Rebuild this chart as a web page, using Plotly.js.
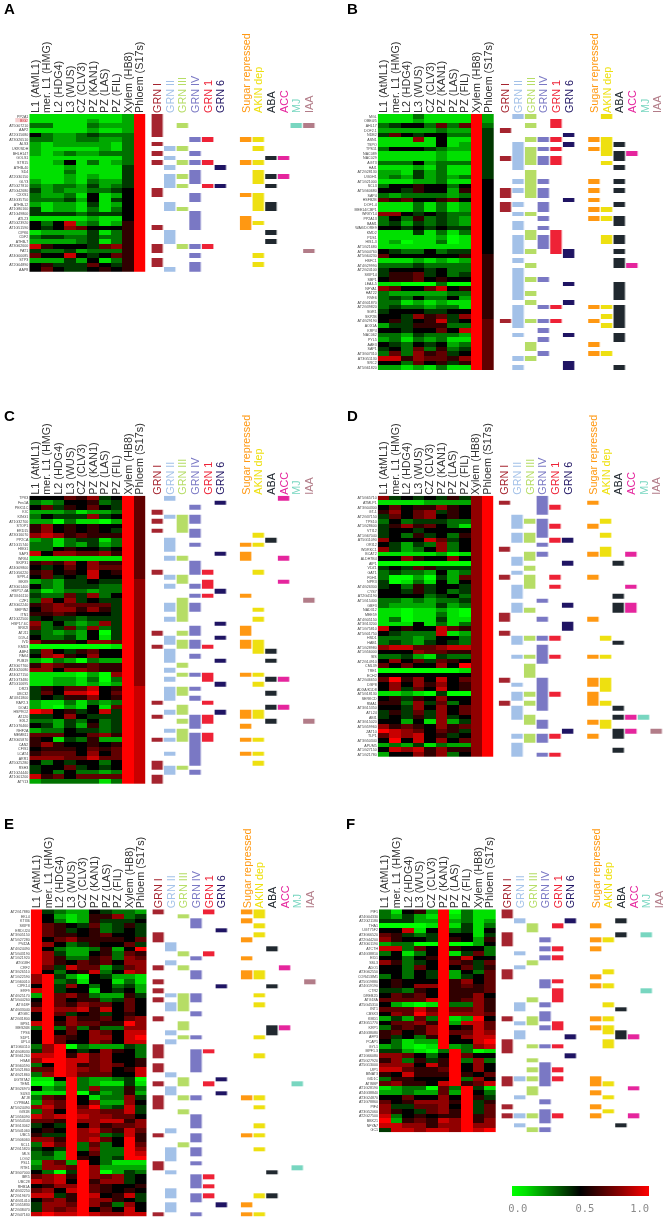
<!DOCTYPE html>
<html><head><meta charset="utf-8">
<script src="https://cdn.plot.ly/plotly-3.0.1.min.js"></script>
<style>html,body{margin:0;padding:0;background:#fff}#chart{width:666px;height:1220px;filter:blur(0.45px)}</style>
</head><body><div id="chart"></div>
<script>
const COLUMNS = ["L1 (AtML1)","mer. L1 (HMG)","L2 (HDG4)","L3 (WUS)","CZ (CLV3)","PZ (KAN1)","PZ (LAS)","PZ (FIL)","Xylem (HB8)","Phloem (S17s)"];
const TRACK_NAMES = ["GRN I","GRN II","GRN III","GRN IV","GRN 1","GRN 6","Sugar repressed","AKIN dep","ABA","ACC","MJ","IAA"];
const TRACK_COLORS = ["#a5242f","#a3c1e8","#b6dd66","#7a78c4","#ee2236","#1f1463","#ff9812","#eee010","#20282f","#e5259d","#78d6c0","#b27c88"];
const TRACK_POS = [0,1,2,3,4,5,7,8,9,10,11,12];

// values: 0 = 0.0 (green), 5 = 0.5 (black), 10 = 1.0 (red); in tenths
const A_genes = ["PP2A1","BIG2","AT5G07210","AAP2","AT2G15680","AT3G26510","ALS3","UKR/SDH","BHLH147","GOLS1","STR15","ATHB-40","SD4","AT2G30150","GLY3","AT5G27810","AT5G42680","CXXS1","AT4G35750","ATHB-12","AT1G80160","AT1G49800","ATL23","AT5G23920","AT1G51590","CIPK6","CDF2","ATHB-7","AT3G62600","PAT1","AT4G00085","STP3","AT2G04890","AAP8"];
const A_values = [
[1,1,1,1,1,1,1,1,2,10],[1,1,1,1,1,2,1,1,2,10],[3,3,1,1,1,3,2,2,2,10],[1,1,1,1,1,2,1,1,2,10],
[5,3,2,2,3,4,3,3,3,10],[3,3,2,2,3,3,2,2,3,10],[2,1,2,2,2,2,2,1,3,10],[2,1,1,1,1,1,2,1,3,10],
[2,1,2,3,2,2,3,3,3,10],[1,1,1,1,1,1,1,1,3,10],[1,1,2,5,1,3,1,2,3,10],[1,1,1,2,1,1,1,1,4,10],
[1,1,1,3,1,1,1,1,4,10],[1,1,1,2,1,2,1,1,4,10],[2,1,1,2,1,3,2,2,4,10],[3,2,3,3,2,4,2,3,4,10],
[4,2,3,2,2,3,3,4,5,10],[3,2,2,3,1,5,1,2,5,10],[3,3,3,4,2,5,1,4,5,10],[2,1,2,2,1,4,1,2,5,10],
[4,1,2,2,1,3,1,3,5,10],[4,4,4,4,3,4,4,4,5,10],[1,1,1,1,1,2,1,1,5,10],[5,3,5,9,2,3,1,2,6,10],
[5,4,5,8,7,5,5,5,6,10],[1,2,2,2,2,4,1,3,6,10],[3,4,4,3,3,4,3,3,6,10],[2,2,2,2,3,4,1,3,6,10],
[9,6,5,5,5,4,7,8,6,10],[4,3,3,4,2,3,3,3,6,10],[7,5,5,9,5,4,5,7,6,10],[2,2,2,4,2,5,1,3,6,10],
[5,6,4,4,4,7,5,4,6,10],[5,7,5,4,4,5,6,5,6,10]];
const A_tracks = [
[0,1,2,3,4,6,8,10,16,17,24,28,29,31,32],
[7,9,11,13,14,15,19,20,25,26,27,33],
[2,7,10,13,15,20,28],
[5,8,10,12,13,14,17,18,21,22,23,24,28,30,32,33],
[5,10,15,28],
[11,15],
[5,10,17,22,23,24],
[5,7,10,12,13,14,17,18,19,20,23,30,32],
[9,13,15,19,20,25,27],
[9,13],
[2],
[2,29]];

const B_genes = ["MGL","OBE4/5","AHL17","DOF2.1","NDB2","ASN1","TSPO","TPS11","NAC089","NAC029","AGT3","HAI1","AT2G28130","UGDH1","AT1G21000","SCL3","AT5G60680","SAP4","HSFB2B","DOF1.4","MEE14/CBP1","WRKY14","PP2A13","BAM1","WAK/DORE9","KMD2","PDS1","HIS1-3","AT1G21680","AT5G04760","AT5G64230","HSFC1","AT4G29990","AT2G24100","SKIP14","SBP1","LEA4-5","NFYA1","HAT22","RVE6","AT4G01870","AT2G39820","SGR1","SKP2B","AT4G29190","AOX1A","KRP4","NAC062","PYL5","AAE3","SAP1","AT3G07310","AT3G51130","SRC2","AT5G61820"];
const B_values = [
[1,1,1,3,1,1,1,1,10,2],[1,1,1,2,1,1,1,1,10,2],[3,4,5,5,3,7,3,7,10,3],[2,2,2,2,2,3,2,2,10,4],
[4,7,5,4,5,5,3,3,10,4],[1,1,1,8,1,5,1,1,10,4],[1,1,1,1,1,5,1,2,10,4],[3,5,5,5,4,3,2,2,10,4],
[1,1,1,1,1,2,1,1,10,4],[1,1,1,1,1,2,1,1,10,4],[3,3,3,5,2,3,3,3,10,4],[1,1,1,2,1,3,1,1,10,4],
[2,2,1,4,2,3,1,1,10,4],[2,3,2,4,2,3,2,3,10,4],[1,1,1,2,2,3,1,1,10,5],[3,5,5,6,5,5,3,5,10,5],
[5,5,4,6,5,5,2,6,10,5],[3,2,3,3,3,3,2,3,10,5],[7,6,7,5,5,6,7,5,10,5],[1,1,1,3,1,3,1,2,10,5],
[1,1,1,3,1,3,1,2,10,5],[8,8,5,4,5,4,3,3,10,5],[3,5,3,6,3,4,3,2,10,5],[3,4,2,4,3,4,3,2,10,5],
[5,5,4,5,4,5,4,4,10,5],[1,1,1,4,1,3,1,3,10,5],[1,1,1,1,1,2,0,1,10,5],[1,2,0,1,1,3,0,1,10,5],
[1,1,1,1,1,1,1,1,10,5],[5,4,3,3,5,3,4,4,10,5],[7,5,5,5,5,5,5,6,10,6],[1,1,1,2,1,2,1,2,10,6],
[3,3,3,4,3,3,3,3,10,6],[4,5,5,5,4,5,3,3,10,6],[4,6,6,7,4,5,3,4,10,6],[5,6,6,7,5,6,5,5,10,6],
[1,1,0,0,0,3,0,0,10,6],[8,7,5,5,7,9,5,6,10,6],[3,2,2,2,2,2,3,3,10,6],[3,4,3,5,3,3,5,2,10,6],
[3,3,1,2,1,2,1,1,10,6],[3,4,3,3,2,3,3,1,10,6],[4,5,5,5,4,4,5,5,10,6],[5,5,4,8,6,7,4,8,10,6],
[5,6,4,5,6,9,4,5,10,7],[2,4,4,6,6,6,3,3,10,7],[5,5,4,5,5,7,5,9,10,7],[3,3,2,4,3,3,3,2,10,7],
[2,3,1,3,2,3,1,1,10,7],[5,4,3,5,4,5,2,3,10,7],[4,5,3,7,3,6,3,4,10,7],[3,7,3,8,6,7,4,5,10,7],
[9,9,6,8,7,7,6,8,10,7],[5,5,3,7,5,6,4,6,10,7],[2,2,1,2,1,3,1,1,10,7]];
const B_tracks = [
[3,9,16,17,19,20,44],
[0,6,7,8,9,10,11,14,16,19,21,23,24,26,27,28,29,31,33,34,35,36,37,38,39,41,42,43,44,45,47,52,54],
[0,2,5,7,8,9,10,12,13,14,15,16,17,21,25,26,29,32,35,38,40,44,49,50,52],
[5,7,9,10,14,16,17,19,20,22,24,26,27,28,35,41,44,46,48,51],
[1,2,5,7,9,10,25,26,27,28,29,41,44],
[4,6,18,29,30,36,40,47,53,54],
[5,7,14,16,18,20,22,41,44,49,51],
[0,5,6,7,8,10,20,22,26,27,41,43,45,51],
[6,8,9,11,14,16,19,22,23,26,27,29,31,32,36,37,38,39,41,42,43,44,45,47,48,54],
[8,32],
[],
[]];

const C_genes = ["TPK3","Fes1A","PEX11C","KIC","KING1","AT1G32700","STOP1","ERD15","AT3G16070","PP2CA","AT1G15740","HMG1","SAP3","WRK4","SKIP31","AT4G09800","AT1G56220","SPPL4","MKK9","AT3G01400","HSP17.4A","AT3G16110","CZF1","AT3G02240","SEIPIN2","ITN1","AT1G22500","HSP17.6C","SRK2I","ATJ11","D19-4","IVD","KMD3","ABF4","PAK4","PUB19","AT3G07760","AT4G20080","AT4G27150","AT1G73480","AT5G10695","DR23","UBC32","AT4G11800","RAP2.3","DOA1","HSPRO2","ATJ20","EXL2","AT1G76460","RHF2A","MEMB11","AT3G05870","CAN2","CFIS1","LCAT4","ARR1","AT5G25280","RSH3","AT1G24440","AT1G01200","ATY13"];
const C_values = [
[5,5,5,7,6,8,4,5,10,7],[3,2,3,5,5,6,3,4,10,7],[5,7,4,6,5,7,5,4,10,7],[2,2,2,3,1,2,2,3,10,7],
[3,5,4,4,4,8,4,5,10,7],[2,2,0,3,1,1,0,2,10,7],[6,8,5,6,5,6,5,5,10,7],[6,8,5,6,5,6,5,4,10,7],
[8,9,8,6,7,6,6,6,10,7],[2,3,1,3,4,4,1,3,10,7],[3,3,1,3,2,4,2,3,10,7],[3,3,5,6,5,5,4,5,10,7],
[9,5,8,8,7,7,8,6,10,7],[1,1,1,1,1,1,1,1,10,7],[6,7,6,8,5,8,6,6,10,7],[5,4,5,7,5,8,7,7,10,7],
[6,7,5,6,5,9,5,6,10,7],[5,7,4,5,4,9,5,5,10,7],[2,3,2,4,4,5,4,4,10,8],[5,3,2,4,4,4,3,3,10,8],
[3,1,2,3,3,2,3,3,10,8],[4,3,3,7,4,8,3,5,10,8],[3,8,5,8,4,5,4,4,10,8],[6,7,8,7,7,7,7,4,10,8],
[5,7,8,8,6,8,6,4,10,8],[6,6,7,6,5,5,5,4,10,8],[4,5,4,4,3,4,4,4,10,8],[8,3,5,3,2,3,8,4,10,8],
[7,3,4,7,3,8,3,4,10,8],[4,3,2,3,2,5,0,4,10,8],[5,3,3,4,2,5,1,4,10,8],[8,6,6,6,5,8,8,7,10,8],
[0,0,0,0,0,0,0,1,10,8],[4,8,5,4,6,7,5,5,10,8],[5,8,9,6,5,8,5,5,10,8],[2,1,3,2,0,3,2,2,10,8],
[6,8,7,6,6,7,6,6,10,8],[8,8,5,8,8,7,6,6,10,8],[1,1,1,1,0,2,0,8,10,8],[1,1,2,2,1,3,0,3,10,8],
[1,1,2,2,1,2,1,2,10,8],[4,6,5,7,7,9,5,6,10,9],[4,7,5,9,9,10,5,7,10,9],[4,5,4,6,6,8,5,6,10,9],
[2,1,1,3,1,3,2,3,10,9],[2,1,0,2,1,5,1,7,10,9],[10,9,5,6,4,5,9,4,10,9],[4,4,5,8,5,4,4,4,10,9],
[3,3,2,4,3,5,3,4,10,9],[5,4,2,4,2,6,3,4,10,9],[2,3,3,5,4,4,3,4,10,9],[7,7,7,5,5,7,8,6,10,9],
[6,5,1,4,3,6,2,2,10,9],[6,8,6,5,5,6,5,6,10,9],[5,6,6,6,5,7,6,7,10,9],[6,7,7,7,5,8,5,7,10,9],
[8,8,8,7,7,9,7,7,10,9],[5,3,5,4,5,5,3,5,10,9],[4,5,5,7,4,5,4,5,10,9],[4,5,3,5,3,3,2,3,10,9],
[9,6,7,5,7,7,7,7,10,9],[2,3,3,3,3,3,1,3,10,9]];
const C_tracks = [
[3,5,7,16,29,32,44,47,52,57,58,60,61],
[0,4,9,10,11,13,17,19,23,24,26,30,31,33,34,35,37,39,41,42,43,46,50,52,55,58,59],
[4,5,6,7,13,17,18,22,23,24,25,26,29,31,32,36,38,41,42,45,46,48,50,51,52,58],
[2,4,5,7,8,10,14,15,16,19,21,23,24,28,29,31,32,34,38,41,43,47,48,49,51,52,53,54,55,56,57,59],
[16,18,19,21,32,38,39,44,47,48,51,52],
[1,12,20,27,30,35,40,46],
[10,12,13,21,28,29,31,32,38,46,47,49,52,55],
[8,10,16,24,26,31,32,33,38,40,46,47,52,55,57],
[9,33,35,39,42,45,48],
[0,13,18,39,45],
[],
[22,48]];

const D_genes = ["AT5G65710","ATMLP1","AT3G04300","GT-1","AT2G37150","TPS10","AT1G28600","VTI12","AT1G67040","AT5G11090","ORI12","WDRKC1","BCAT2","ALDH7B4","AIP1","VDZ1","GAT1","FDH1","NPR3","AT4G26300","CYS7","AT2G41190","AT1G15400","GBF3","NAD312","MEE59","AT4G05150","AT3G13200","AT1G75810","AT5G01750","HSD1","HAB1","AT1G28980","AT1G56000","SIS","AT2G14910","CML39","TRE1","ECH2","AT2G46650","DSP8","ADXA/K1D8","AT5G18130","SERKCD","RMA1","AT3G15350","ATL24","ABI1","AT3G15020","AT5G59960","ZAT10","TLP1","AT3G50340","APUM5","AT1G27150","AT1G21780"];
const D_values = [
[8,4,5,4,5,4,6,4,8,10],[1,1,1,1,2,2,2,2,8,10],[5,7,5,6,6,8,6,5,8,10],[6,8,5,7,8,4,6,5,8,10],
[4,7,5,7,8,5,6,5,8,10],[3,5,3,4,4,4,3,3,8,10],[4,6,8,6,7,5,3,1,8,10],[4,5,5,4,5,5,5,5,8,10],
[4,5,3,6,4,5,3,6,8,10],[8,5,5,5,9,7,4,5,8,10],[5,4,2,4,3,8,3,5,8,10],[8,4,2,3,5,8,3,5,8,10],
[1,1,1,1,1,2,0,1,8,10],[5,5,8,6,5,5,8,5,8,10],[0,0,0,0,0,0,0,0,8,10],[4,5,4,7,6,4,4,4,8,10],
[3,4,3,3,2,5,2,3,8,10],[3,0,0,2,0,4,2,7,8,10],[4,0,1,3,1,5,2,5,8,10],[4,5,3,6,4,5,5,4,8,10],
[5,5,4,6,4,5,3,4,8,10],[5,5,5,5,3,4,5,3,8,10],[3,3,2,3,2,3,3,4,8,10],[3,2,2,2,2,4,2,3,8,10],
[1,1,0,1,1,2,1,0,8,10],[1,1,0,1,1,3,1,0,8,10],[1,3,0,1,1,4,1,1,8,10],[1,1,1,5,1,3,1,3,8,10],
[9,5,6,5,5,9,7,6,8,10],[5,4,3,3,3,9,1,2,8,10],[3,3,3,2,3,5,5,3,8,10],[3,4,3,2,4,5,4,3,8,10],
[8,9,9,7,7,8,9,9,8,10],[5,5,5,8,7,7,6,6,8,10],[3,3,4,2,1,4,3,3,8,10],[5,8,5,7,4,7,6,5,8,10],
[7,5,7,5,5,8,5,10,8,10],[0,0,0,0,0,0,0,1,8,10],[5,5,5,5,5,5,5,5,8,10],[7,10,6,8,5,9,5,7,8,10],
[5,8,5,8,6,8,5,6,8,10],[5,8,4,7,5,9,5,6,8,10],[1,1,2,1,0,4,0,0,8,10],[5,6,4,6,5,8,5,5,8,10],
[6,6,3,8,4,7,3,5,8,10],[5,5,4,8,5,8,5,7,8,10],[4,6,4,7,4,8,5,7,8,10],[4,5,4,6,4,8,4,5,8,10],
[5,5,2,5,1,8,2,4,8,10],[8,6,7,6,5,8,6,7,8,10],[10,9,8,7,5,7,6,4,8,10],[7,9,8,9,5,6,4,5,8,10],
[5,10,5,9,5,8,5,7,8,10],[2,3,2,4,1,3,2,2,8,10],[5,9,8,9,6,8,6,6,8,10],[2,5,5,8,6,8,3,5,8,10]];
const D_tracks = [
[1,11,17,25,26,29,39,44],
[4,5,6,8,9,13,14,16,19,20,21,23,24,30,31,34,40,42,43,45,46,47,51,53,54,55],
[5,8,9,12,13,15,17,18,19,24,30,34,36,37,38,42,44,47,48,51,52],
[0,1,2,3,5,6,7,8,10,12,22,26,30,32,33,34,35,39,40,41,42,43,44,45,48,49,51,52,55],
[2,6,9,17,19,30,34,42,51,55],
[9,14,23,27,28,50],
[1,6,12,17,26,34,39,40,42,43,44,48,51],
[5,8,11,12,30,34,39,40,41,44,48,49],
[14,21,23,24,31,45,47,50,51,54],
[12,19,23,24,47,50],
[47],
[50]];

const E_genes = ["AT2G17880","EKL4","KTI36","SKIP8","ERD/J24","AT3G05150","AT5G27280","PV42A","AT4G24490","AT5G43190","AT1G21920","ATG18H","CRF2","AT3G26510","AT1G22590","AT1G60010","CIPK14","ERF9","AT4G25170","AT5G44260","ATG18F","AT4G33040","ATG8C","AT2G31800","BPS1","MES26B","TPS6","SDP1","UPL4","AT1G60110","AT4G08030","AT3G61260","HSA8","AT3G60590","AT5G21860","AT4G21860","UGT87A2","TEM1","AT3G26970","SUS3","ATJ8","CYP86A1","AT5G24490","GIS1B","AT1G56090","AT5G54540","AT3G13062","AT5G41060","UBC5","AT1G06060","SCL1","AT2G15820","MLS","LOG2","PSL1","RTE1","AT3G07000","IBR5","UBC28","RHB1A","AT4G32250","AT2G19670","AT4G31410","AT1G55830","AT2G38470","AT2G47160"];
const E_values = [
[10,4,3,2,2,5,4,3,3,2],[10,5,2,1,2,6,6,8,3,4],[10,5,3,1,2,6,4,4,4,5],[10,7,6,5,4,7,3,4,6,4],
[10,7,6,4,5,6,3,4,5,4],[10,7,6,6,5,6,7,5,5,4],[10,5,7,8,6,6,6,6,5,7],[10,8,5,3,4,6,5,5,7,4],
[10,5,3,2,2,3,6,2,5,10],[10,8,4,2,2,5,6,3,7,6],[10,8,6,3,3,6,7,3,8,7],[10,8,6,5,7,6,7,5,8,8],
[10,7,4,9,7,7,2,4,7,8],[10,5,3,5,6,9,3,5,9,8],[8,10,4,2,0,5,4,2,2,1],[8,10,3,4,1,5,5,1,3,1],
[5,10,4,8,5,3,5,3,4,2],[9,10,4,5,5,1,5,4,5,2],[2,10,7,8,6,3,2,2,6,4],[5,10,7,5,6,6,3,4,7,5],
[6,10,7,6,8,7,7,5,7,5],[8,10,8,8,9,6,9,5,7,5],[5,10,7,4,5,6,4,5,6,5],[5,10,5,8,6,6,7,5,7,8],
[9,10,6,8,7,7,6,6,10,8],[3,10,3,7,3,6,3,3,8,8],[5,10,5,7,5,8,7,5,9,9],[5,10,7,6,5,8,8,5,9,10],
[5,10,7,5,5,8,7,5,9,9],[3,8,10,0,3,2,2,2,4,3],[4,8,10,5,4,5,8,6,5,3],[9,9,10,6,9,7,8,5,5,3],
[8,10,10,9,9,7,8,5,5,6],[3,5,10,9,6,7,8,7,5,6],[7,7,10,9,8,7,8,5,6,9],[3,8,10,9,7,7,7,5,5,9],
[1,1,5,10,3,2,2,3,4,0],[0,0,2,10,3,2,1,1,4,1],[5,2,3,10,3,8,3,3,6,3],[1,1,1,10,0,4,2,3,6,2],
[3,7,6,10,5,1,3,3,8,4],[2,8,7,10,5,8,2,2,8,5],[8,9,7,10,7,10,3,4,9,4],[3,8,5,10,8,8,7,7,9,4],
[9,8,9,10,9,8,8,7,7,5],[7,7,6,10,8,8,9,9,6,8],[4,5,4,10,5,8,6,7,7,8],[5,6,5,10,8,9,7,6,9,7],
[6,4,4,10,8,8,3,4,9,6],[8,8,6,10,8,9,7,5,10,6],[3,9,7,10,3,7,3,5,10,7],[4,5,4,10,3,8,3,3,10,8],
[3,4,2,10,5,7,3,3,10,9],[3,3,2,10,6,5,3,4,10,10],[2,8,7,2,10,5,3,1,1,1],[3,8,8,7,10,8,2,2,2,2],
[5,3,0,4,10,8,0,2,4,3],[7,8,9,6,10,8,7,8,4,5],[9,8,9,5,10,6,8,8,4,5],[5,6,8,8,10,7,6,5,5,6],
[7,8,5,9,10,7,6,5,6,5],[9,9,4,6,10,9,5,6,9,4],[5,7,8,6,10,8,8,6,5,4],[4,8,8,7,10,8,6,3,8,5],
[4,8,7,8,10,5,7,5,9,5],[9,10,9,9,10,9,8,8,9,9]];
const E_tracks = [
[0,5,6,12,15,17,19,23,29,30,31,33,34,37,40,41,42,48,54,55,65],
[7,8,11,18,20,21,26,28,35,38,39,47,51,52,53,56,60,61,63,64],
[1,9,12,18,19,20,21,24,25,27,36,37,40,43,50],
[2,3,10,13,14,18,19,22,27,30,31,32,33,34,40,44,45,46,48,49,51,52,54,57,58,59,61,62,65],
[0,9,30,37,57,59,61],
[4,16,36,39,63],
[0,2,6,10,13,14,40,48,63,65],
[0,1,3,5,13,14,18,20,27,31,40,42,46,48,51,61,65],
[8,16,25,26,56,61],
[12,25],
[37,55],
[15]];

const F_genes = ["PIF1","AT4G04330","AT2G21180","THA1","UGT75F2","AT3G66520","AT2G44200","AT3G01190","ATCTH","AT4G38810","EID1","SSL3","ADO1","AT3G62550","COR413IM1","AT5G19880","AT4G19190","CTR2","DREB2D","ATG18A","AT5G45310","INT1","CBSX3","KMD1","AT3G51770","KRP1","AT4G38080","AFP3","PCAP1","GYL1","MPF1.3","AT1G66080","AT5G27920","AT5G13000","UIP1","BINAT3","GID1C","ATISBP","AT1G28190","AT4G38840","AT3G24870","AT1G78860","PIF4","AT3G52060","AT2G27500","BBX21","NFYA7","GC1"];
const F_values = [
[3,1,5,6,2,10,0,3,1,1],[3,2,4,2,1,10,1,3,1,1],[4,4,4,2,2,10,2,3,1,2],[0,0,0,0,1,10,1,4,1,3],
[5,5,9,1,5,10,3,4,1,5],[7,6,4,3,4,10,5,5,1,4],[8,6,5,5,4,10,6,5,2,6],[2,3,3,0,0,10,0,0,2,5],
[9,9,3,7,5,10,6,5,5,3],[3,5,1,3,5,10,1,4,7,3],[5,5,3,5,6,10,6,9,5,5],[8,6,3,4,5,10,7,6,4,7],
[5,5,3,7,5,10,5,7,4,6],[5,5,3,5,4,10,2,5,3,7],[3,5,3,5,4,10,2,4,5,7],[5,6,5,5,5,10,6,8,5,7],
[5,6,5,8,8,10,6,7,6,7],[4,4,3,6,5,10,6,6,6,7],[5,7,6,7,5,10,6,6,8,5],[7,7,7,7,9,10,6,7,8,6],
[5,2,1,0,1,10,3,3,8,6],[7,7,7,9,7,10,7,7,8,6],[5,8,7,10,8,10,8,8,8,7],[2,4,2,7,3,10,1,2,10,5],
[5,7,7,8,6,10,2,9,9,7],[3,6,7,6,8,10,5,6,9,7],[6,7,5,6,8,10,7,7,9,8],[6,4,5,3,6,10,5,8,9,9],
[5,3,1,2,2,10,5,5,9,10],[2,3,1,0,1,10,2,3,8,9],[4,4,2,1,0,3,10,3,0,1],[8,8,7,5,3,5,10,7,5,5],
[6,8,3,6,4,6,10,3,8,3],[8,8,8,5,9,6,10,5,8,5],[9,9,7,6,6,7,10,5,8,5],[6,5,9,6,6,6,10,6,5,7],
[3,6,6,5,5,5,10,3,8,5],[7,8,6,6,5,9,10,6,7,9],[1,2,3,3,0,7,3,10,4,1],[2,2,3,2,2,7,2,10,5,3],
[5,5,7,5,5,8,5,10,6,4],[7,5,6,8,8,8,6,10,4,6],[8,4,4,7,7,8,5,10,4,7],[8,6,5,4,7,8,6,10,4,7],
[9,3,5,6,5,6,6,10,6,7],[10,2,6,7,6,9,8,10,6,8],[9,9,8,8,6,8,8,10,8,8],[4,9,9,8,9,9,8,10,9,10]];
const F_tracks = [
[0,1,5,6,7,13,14,23,28,29,30,36,37,42,44],
[2,9,12,20,21,24,26,27,36,40,44,46],
[3,4,11,19,23,24,29,32,34,36,38,39,44,47],
[6,8,10,15,16,20,22,23,25,29,33,34,35,36,37,41,43,44,45,47],
[3,8,10,15,17,18,19,24,25,29,34,36,44],
[2,27,31],
[3,6,8,14,16,23,25,36,37,39,42,44],
[6,13,16,20,23,25,26,28,29,37,40,43],
[2,5,21,26,27,46],
[27,38,44],
[5,17],
[]];

const COLORBAR_TICKS = [0.04,0.53,0.93];
const COLORBAR_LABELS = ["0.0","0.5","1.0"];
const HIGHLIGHT_GENE = "BIG2";

// pixel frames of the six panels
const W = 666, H = 1220;
const FRAMES = [
 {id:"A",genes:A_genes,values:A_values,tracks:A_tracks,heat:[29.3,145.7],ys:[114,271.7],ann:157.7,letter:[3.3,15]},
 {id:"B",genes:B_genes,values:B_values,tracks:B_tracks,heat:[377.7,494],ys:[114,370],ann:506,letter:[345.5,15]},
 {id:"C",genes:C_genes,values:C_values,tracks:C_tracks,heat:[29.3,145.7],ys:[495.7,784],ann:157.7,letter:[3.3,422]},
 {id:"D",genes:D_genes,values:D_values,tracks:D_tracks,heat:[377.7,493.3],ys:[495.7,757],ann:505,letter:[345.5,422]},
 {id:"E",genes:E_genes,values:E_values,tracks:E_tracks,heat:[30.7,146.7],ys:[909.3,1216.7],ann:158.7,letter:[3.3,830]},
 {id:"F",genes:F_genes,values:F_values,tracks:F_tracks,heat:[379,495.7],ys:[909.3,1132.3],ann:507.7,letter:[345,830]}
];
const STEP = 12.65, BAR_GAP = 1.6;

const traces = [];
const layout = {
  width:W, height:H, autosize:false, margin:{l:0,r:0,t:0,b:0,pad:0},
  paper_bgcolor:"#fff", plot_bgcolor:"#fff", showlegend:false,
  font:{family:"Liberation Sans, Arial, sans-serif",color:"#333"},
  coloraxis:{
    cmin:0,cmax:1,
    colorscale:[[0,"#00ff00"],[0.1,"#00e000"],[0.2,"#00a800"],[0.3,"#007000"],[0.4,"#003800"],[0.5,"#000000"],
                [0.6,"#300000"],[0.7,"#600000"],[0.8,"#900000"],[0.9,"#c80000"],[1,"#ff0000"]],
    colorbar:{orientation:"h",xref:"paper",yref:"paper",x:512.3/W,xanchor:"left",y:1-1186/H,yanchor:"top",
      lenmode:"pixels",len:137.4,thicknessmode:"pixels",thickness:10,xpad:0,ypad:0,outlinewidth:0,
      tickmode:"array",tickvals:COLORBAR_TICKS,ticktext:COLORBAR_LABELS,ticks:"outside",ticklen:4,tickcolor:"rgba(0,0,0,0)",
      tickfont:{family:"DejaVu Sans Mono, monospace",size:10.5,color:"#8a8a8a"}}
  },
  annotations:[],
  shapes:[{type:"rect",xref:"paper",yref:"paper",layer:"below",line:{width:0},fillcolor:"#f7d0d0",
    x0:15.3/W,x1:26.8/W,y0:1-122.2/H,y1:1-118/H}]
};

FRAMES.forEach((f,i)=>{
  const a = i*2+1, b = i*2+2;
  const rows = f.genes.map((_,r)=>r);
  const yr = [rows.length-0.5,-0.5];
  const yDom = [1-f.ys[1]/H,1-f.ys[0]/H];
  layout["xaxis"+a] = {domain:[f.heat[0]/W,f.heat[1]/W],range:[-0.5,9.5],anchor:"y"+a,side:"top",
    tickmode:"array",tickvals:COLUMNS.map((_,c)=>c),ticktext:COLUMNS,tickangle:-90,ticklen:0,ticks:"",
    tickfont:{size:10.8,color:"#333"},showgrid:false,zeroline:false,showline:false};
  layout["yaxis"+a] = {domain:yDom,range:yr,anchor:"x"+a,tickmode:"array",tickvals:rows,
    ticktext:f.genes.map(g=>g===HIGHLIGHT_GENE?'<span style="color:#c8323c">'+g+'</span>':g),
    ticks:"",ticklen:0,tickfont:{size:3.6,color:"#444"},showgrid:false,zeroline:false,showline:false,automargin:false};
  layout["xaxis"+b] = {domain:[(f.ann-STEP/2)/W,(f.ann+12*STEP+STEP/2)/W],range:[-0.5,12.5],anchor:"y"+b,side:"top",
    tickmode:"array",tickvals:TRACK_POS,
    ticktext:TRACK_NAMES.map((n,c)=>'<span style="color:'+TRACK_COLORS[c]+'">'+n+'</span>'),
    tickangle:-90,ticks:"",ticklen:0,tickfont:{size:10.8},showgrid:false,zeroline:false,showline:false};
  layout["yaxis"+b] = {domain:yDom,range:yr,anchor:"x"+b,visible:false,showticklabels:false,ticks:"",showgrid:false,zeroline:false,showline:false};

  traces.push({type:"heatmap",name:f.id,x:COLUMNS.map((_,c)=>c),y:rows,z:f.values.map(r=>r.map(v=>v/10)),
    coloraxis:"coloraxis",xaxis:"x"+a,yaxis:"y"+a,zsmooth:false});
  f.tracks.forEach((list,c)=>{
    if(!list.length) return;
    traces.push({type:"heatmap",name:TRACK_NAMES[c],x:[TRACK_POS[c]],y:rows,
      z:rows.map(r=>[list.includes(r)?1:null]),zmin:0,zmax:1,
      colorscale:[[0,TRACK_COLORS[c]],[1,TRACK_COLORS[c]]],showscale:false,
      xgap:BAR_GAP,xaxis:"x"+b,yaxis:"y"+b,hoverongaps:false});
  });
  layout.annotations.push({xref:"paper",yref:"paper",x:f.letter[0]/W,y:1-f.letter[1]/H,xanchor:"left",yanchor:"bottom",
    text:"<b>"+f.id+"</b>",showarrow:false,align:"left",font:{size:15,color:"#000"},borderpad:0,yshift:-3});
});

Plotly.newPlot("chart",traces,layout,{staticPlot:true,displayModeBar:false});
</script></body></html>
